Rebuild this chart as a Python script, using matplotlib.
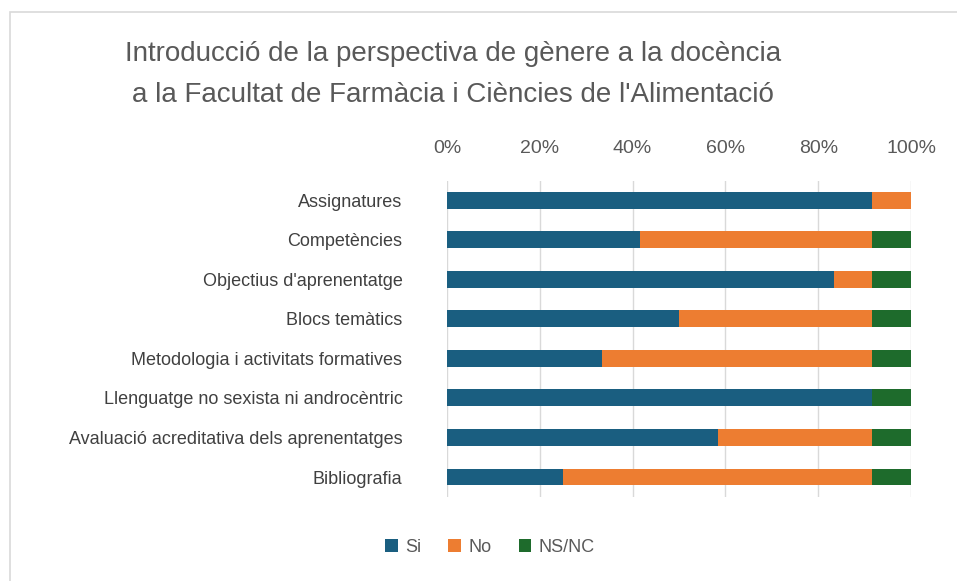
import numpy as np
import matplotlib.pyplot as plt
from matplotlib.patches import Rectangle

# =========================================
# DATA
# =========================================
categories = ["Assignatures", "Competències", "Objectius d'aprenentatge", "Blocs temàtics",
              "Metodologia i activitats formatives", "Llenguatge no sexista ni androcèntric",
              "Avaluació acreditativa dels aprenentatges", "Bibliografia"]
si = [91.67, 41.67, 83.33, 50.0, 33.33, 91.67, 58.33, 25.0]
no = [8.33, 50.0, 8.33, 41.67, 58.33, 0.0, 33.33, 66.67]
nsnc = [0.0, 8.33, 8.33, 8.33, 8.33, 8.33, 8.33, 8.33]
series_names = ["Si", "No", "NS/NC"]
colors = ["#1a5e80", "#ed7d31", "#1e6b2c"]

title = "Introducció de la perspectiva de gènere a la docència\na la Facultat de Farmàcia i Ciències de l'Alimentació"

plt.rcParams['font.family'] = ['Liberation Sans Narrow', 'Liberation Sans', 'DejaVu Sans']

fig = plt.figure(figsize=(9.57, 5.81), dpi=100)
ax = fig.add_axes([0.467, 0.145, 0.485, 0.544])

y = np.arange(len(categories))
left = np.zeros(len(categories))
for vals, name, c in zip([si, no, nsnc], series_names, colors):
    ax.barh(y, vals, left=left, height=0.43, color=c, label=name, zorder=3)
    left += np.array(vals)

ax.set_ylim(len(categories) - 0.5, -0.5)
ax.set_xlim(0, 100)
ax.set_xticks(np.arange(0, 101, 20))
ax.set_xticklabels([f"{v}%" for v in range(0, 101, 20)])
ax.xaxis.tick_top()
ax.set_yticks(y)
ax.set_yticklabels(categories)
ax.tick_params(axis='x', length=0, labelsize=14, colors='#595959', pad=17)
ax.tick_params(axis='y', length=0, labelsize=13, colors='#404040', pad=32)
ax.grid(axis='x', color='#d9d9d9', linewidth=1, zorder=0)
for s in ax.spines.values():
    s.set_visible(False)

fig.text(0.473, 0.93, title, ha='center', va='top', fontsize=20, color='#595959',
         linespacing=1.75)

# chart border (cropped at right/bottom)
fig.add_artist(Rectangle((10 / 957, -0.1), 1.2, 1 - 12 / 581 + 0.1, transform=fig.transFigure,
                         fill=False, edgecolor='#d9d9d9', linewidth=1.2))

fig.legend(loc='center', bbox_to_anchor=(0.512, 0.058), ncol=3, frameon=False,
           fontsize=13, handlelength=0.7, handleheight=0.7, handletextpad=0.4,
           columnspacing=1.5, labelcolor='#595959')

fig.savefig("out.png", dpi=100)
